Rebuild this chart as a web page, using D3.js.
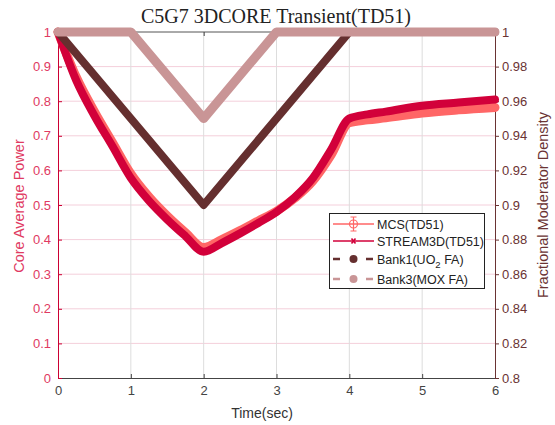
<!DOCTYPE html>
<html>
<head>
<meta charset="utf-8">
<script src="https://cdn.jsdelivr.net/npm/d3@7"></script>
<style>
  body { margin: 0; background: #fff; }
  text { font-family: "Liberation Sans", Arial, sans-serif; }
</style>
</head>
<body>
<div id="chart"></div>
<script>
// data
var timeP = [0, 0.25, 0.5, 0.75, 1, 1.25, 1.5, 1.75, 2, 2.25, 2.5, 2.75, 3, 3.25, 3.5, 3.75, 4, 4.25, 4.5, 5, 5.5, 6];
var mcsPower = [1, 0.87, 0.77, 0.68, 0.59, 0.523, 0.468, 0.42, 0.377, 0.4, 0.426, 0.454, 0.482, 0.52, 0.57, 0.645, 0.738, 0.746, 0.752, 0.766, 0.775, 0.782];
var streamPower = [1, 0.86, 0.758, 0.669, 0.578, 0.512, 0.458, 0.41, 0.365, 0.39, 0.418, 0.448, 0.48, 0.522, 0.578, 0.66, 0.75, 0.762, 0.77, 0.787, 0.796, 0.805];

var timeB1 = [0, 2, 4, 6];
var bank1 = [1, 0.9, 1, 1];
var timeB3 = [0, 1, 2, 3, 6];
var bank3 = [1, 1, 0.95, 1, 1];

var xTicks = [0, 1, 2, 3, 4, 5, 6];
var leftTicks = [0, 0.1, 0.2, 0.3, 0.4, 0.5, 0.6, 0.7, 0.8, 0.9, 1];
var rightTicks = [0.8, 0.82, 0.84, 0.86, 0.88, 0.9, 0.92, 0.94, 0.96, 0.98, 1];

var w = 555, h = 425;
// plot box (note: "top" is taken by window.top)
var pL = 58, pR = 495, pT = 32, pB = 378;

var cMcs = "#ff6666", cStream = "#d2003a", cBank1 = "#652f2f", cBank3 = "#c99596";
var cLeft = "#e03a62", cRight = "#6a3333";

var svg = d3.select("#chart").append("svg")
  .attr("width", w).attr("height", h);

var x = d3.scaleLinear().domain([0, 6]).range([pL, pR]);
var yL = d3.scaleLinear().domain([0, 1]).range([pB, pT]);
var yR = d3.scaleLinear().domain([0.8, 1]).range([pB, pT]);

// grid
svg.append("g").selectAll("line").data(leftTicks.slice(1, -1)).enter().append("line")
  .attr("x1", pL).attr("x2", pR)
  .attr("y1", function(d){ return yL(d); }).attr("y2", function(d){ return yL(d); })
  .attr("stroke", "#f4cfdb").attr("stroke-width", 1);
svg.append("g").selectAll("line").data(xTicks.slice(1, -1)).enter().append("line")
  .attr("x1", function(d){ return x(d); }).attr("x2", function(d){ return x(d); })
  .attr("y1", pT).attr("y2", pB)
  .attr("stroke", "#dddddd").attr("stroke-width", 1);

// frame
svg.append("line").attr("x1", pL).attr("x2", pR).attr("y1", pT).attr("y2", pT)
  .attr("stroke", "#555").attr("stroke-width", 1);

// axes
var xAxis = d3.axisBottom(x).tickValues(xTicks).tickFormat(d3.format("d"))
  .tickSizeInner(-4).tickSizeOuter(0).tickPadding(8);
var gx = svg.append("g").attr("transform", "translate(0," + pB + ")").call(xAxis);
gx.select(".domain").attr("stroke", "#444");
gx.selectAll(".tick line").attr("stroke", "#444");
gx.selectAll("text").attr("fill", "#444").style("font-size", "13px");

var gxTop = svg.append("g").attr("transform", "translate(0," + pT + ")")
  .call(d3.axisTop(x).tickValues(xTicks).tickSizeInner(-4).tickSizeOuter(0).tickFormat(""));
gxTop.select(".domain").remove();
gxTop.selectAll(".tick line").attr("stroke", "#444");

var gl = svg.append("g").attr("transform", "translate(" + pL + ",0)")
  .call(d3.axisLeft(yL).tickValues(leftTicks).tickFormat(d3.format("")).tickSizeInner(-4).tickSizeOuter(0).tickPadding(7));
gl.select(".domain").attr("stroke", "#cc0033");
gl.selectAll(".tick line").attr("stroke", "#cc0033");
gl.selectAll("text").attr("fill", cLeft).style("font-size", "13px");

var gr = svg.append("g").attr("transform", "translate(" + pR + ",0)")
  .call(d3.axisRight(yR).tickValues(rightTicks).tickFormat(d3.format("")).tickSizeInner(4).tickSizeOuter(0).tickPadding(3));
gr.select(".domain").attr("stroke", cRight);
gr.selectAll(".tick line").attr("stroke", cRight);
gr.selectAll("text").attr("fill", cRight).style("font-size", "13px");

// series
var lineL = d3.line().x(function(d){ return x(d[0]); }).y(function(d){ return yL(d[1]); }).curve(d3.curveMonotoneX);
var lineR = d3.line().x(function(d){ return x(d[0]); }).y(function(d){ return yR(d[1]); });

svg.append("path").datum(d3.zip(timeP, mcsPower)).attr("d", lineL)
  .attr("fill", "none").attr("stroke", cMcs).attr("stroke-width", 9)
  .attr("stroke-linejoin", "round").attr("stroke-linecap", "round");
svg.append("path").datum(d3.zip(timeP, streamPower)).attr("d", lineL)
  .attr("fill", "none").attr("stroke", cStream).attr("stroke-width", 8)
  .attr("stroke-linejoin", "round").attr("stroke-linecap", "round");
svg.append("path").datum(d3.zip(timeB1, bank1)).attr("d", lineR)
  .attr("fill", "none").attr("stroke", cBank1).attr("stroke-width", 8)
  .attr("stroke-linejoin", "round").attr("stroke-linecap", "round");
svg.append("path").datum(d3.zip(timeB3, bank3)).attr("d", lineR)
  .attr("fill", "none").attr("stroke", cBank3).attr("stroke-width", 9)
  .attr("stroke-linejoin", "round").attr("stroke-linecap", "round");

// titles
svg.append("text").attr("x", 276).attr("y", 23).attr("text-anchor", "middle")
  .style("font-family", "'Liberation Serif', 'Times New Roman', serif").style("font-size", "20px")
  .attr("fill", "#222").text("C5G7 3DCORE Transient(TD51)");
svg.append("text").attr("x", 262).attr("y", 418).attr("text-anchor", "middle")
  .style("font-size", "14px").attr("fill", "#333").text("Time(sec)");
svg.append("text").attr("transform", "translate(24,206) rotate(-90)").attr("text-anchor", "middle")
  .style("font-size", "14.5px").attr("fill", cLeft).text("Core Average Power");
svg.append("text").attr("transform", "translate(548,205) rotate(-90)").attr("text-anchor", "middle")
  .style("font-size", "14.5px").attr("fill", cRight).text("Fractional Moderator Density");

// legend
var lg = svg.append("g");
lg.append("rect").attr("x", 329.5).attr("y", 213.5).attr("width", 155).attr("height", 75)
  .attr("fill", "#fff").attr("stroke", "#222").attr("stroke-width", 1);
var rows = [
  { y: 224, color: cMcs, kind: "mcs", label: "MCS(TD51)" },
  { y: 241, color: cStream, kind: "x", label: "STREAM3D(TD51)" },
  { y: 259, color: cBank1, kind: "dot", label: "Bank1(UO" },
  { y: 279, color: cBank3, kind: "dot", label: "Bank3(MOX FA)" }
];
rows.forEach(function(r) {
  if (r.kind === "dot") {
    lg.append("path").attr("d", "M333," + r.y + "h7M366," + r.y + "h7")
      .attr("stroke", r.color).attr("stroke-width", 2.5);
    lg.append("circle").attr("cx", 353.5).attr("cy", r.y).attr("r", 4).attr("fill", r.color);
  } else {
    lg.append("line").attr("x1", 333).attr("x2", 374).attr("y1", r.y).attr("y2", r.y)
      .attr("stroke", r.color).attr("stroke-width", 1.3);
  }
  if (r.kind === "mcs") {
    lg.append("circle").attr("cx", 353.5).attr("cy", r.y).attr("r", 4)
      .attr("fill", "none").attr("stroke", r.color).attr("stroke-width", 1.2);
    lg.append("path").attr("d", "M350.5," + (r.y - 7) + "h6M353.5," + (r.y - 7) + "v14M350.5," + (r.y + 7) + "h6")
      .attr("stroke", r.color).attr("stroke-width", 1.2).attr("fill", "none");
  }
  if (r.kind === "x") {
    lg.append("path").attr("d", "M351.5," + (r.y - 2.5) + "l4,5M355.5," + (r.y - 2.5) + "l-4,5")
      .attr("stroke", r.color).attr("stroke-width", 1.6);
  }
  var t = lg.append("text").attr("x", 377).attr("y", r.y + 4.5)
    .style("font-size", "12.5px").attr("fill", "#222").text(r.label);
  if (r.kind === "dot" && r.label === "Bank1(UO") {
    t.append("tspan").attr("dy", 4).style("font-size", "9.5px").text("2");
    t.append("tspan").attr("dy", -4).text(" FA)");
  }
});
</script>
</body>
</html>
